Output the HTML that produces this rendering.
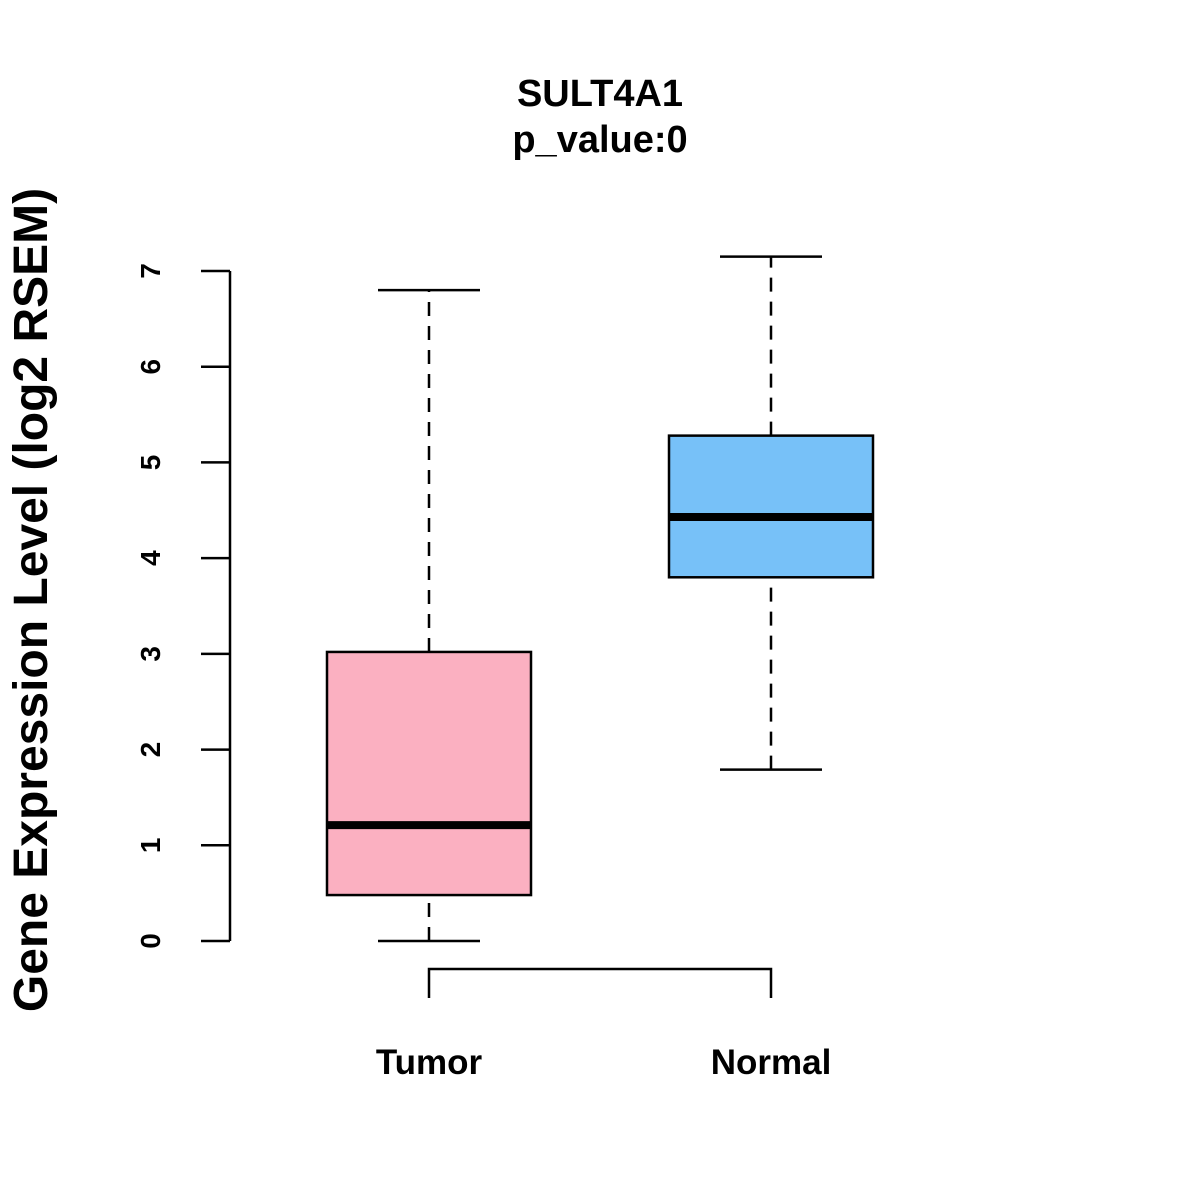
<!DOCTYPE html>
<html><head><meta charset="utf-8"><style>body{margin:0;background:#fff}svg{display:block}text{font-family:"Liberation Sans",Arial,sans-serif;font-weight:bold}</style></head>
<body>
<svg id="chart" width="1200" height="1200" viewBox="0 0 1200 1200">
<rect width="1200" height="1200" fill="#fff"/>
<text x="600" y="106" font-size="38" text-anchor="middle">SULT4A1</text>
<text x="600" y="152" font-size="38" text-anchor="middle">p_value:0</text>
<text transform="translate(47,600) rotate(-90)" font-size="48" text-anchor="middle">Gene Expression Level (log2 RSEM)</text>
<g id="axis"></g><g id="boxes"></g>
</svg>
<script>
const categories = ["Tumor", "Normal"];
const whiskerLow = [0, 1.79];
const q1 = [0.48, 3.80];
const median = [1.21, 4.43];
const q3 = [3.02, 5.28];
const whiskerHigh = [6.80, 7.15];
const colors = ["#fbb0c1", "#77c1f8"];
const yTicks = [0, 1, 2, 3, 4, 5, 6, 7];

const NS = "http://www.w3.org/2000/svg";
const y = v => 941 - v * (670 / 7);
const x = i => 429 + i * 342;
function mk(tag, attrs, parent) {
  const e = document.createElementNS(NS, tag);
  for (const k in attrs) e.setAttribute(k, attrs[k]);
  parent.appendChild(e); return e;
}
const axis = document.getElementById("axis");
const boxes = document.getElementById("boxes");
const ax = mk("line", {x1: 230, x2: 230, y1: y(yTicks[0]), y2: y(yTicks[yTicks.length-1]), stroke: "#000", "stroke-width": 2.5}, axis);


yTicks.forEach(t => {
  const tk = mk("line", {x1: 201, x2: 230, y1: y(t), y2: y(t), stroke: "#000", "stroke-width": 2.5}, axis);
  
  
  const lb = mk("text", {transform: `translate(160,${y(t)}) rotate(-90)`, "font-size": 28, "text-anchor": "middle"}, axis);
  lb.textContent = t;
  
  
});
categories.forEach((c, i) => {
  const cx = x(i);
  const g = mk("g", {}, boxes);
  
  
  const sw = {stroke: "#000", "stroke-width": 2.5};
  mk("line", {x1: cx, x2: cx, y1: y(whiskerLow[i]), y2: y(q1[i]), "stroke-dasharray": "14,10", ...sw}, g);
  mk("line", {x1: cx, x2: cx, y1: y(q3[i]), y2: y(whiskerHigh[i]), "stroke-dasharray": "14,10", ...sw}, g);
  mk("line", {x1: cx - 51, x2: cx + 51, y1: y(whiskerLow[i]), y2: y(whiskerLow[i]), ...sw}, g);
  mk("line", {x1: cx - 51, x2: cx + 51, y1: y(whiskerHigh[i]), y2: y(whiskerHigh[i]), ...sw}, g);
  mk("rect", {x: cx - 102, width: 204, y: y(q3[i]), height: y(q1[i]) - y(q3[i]), fill: colors[i], ...sw}, g);
  mk("line", {x1: cx - 102, x2: cx + 102, y1: y(median[i]), y2: y(median[i]), stroke: "#000", "stroke-width": 8}, g);
  const lb = mk("text", {x: cx, y: 1074, "font-size": 35, "text-anchor": "middle"}, g);
  lb.textContent = c;
  
  
});
const br = mk("path", {d: `M${x(0)},998 V969 H${x(1)} V998`, fill: "none", stroke: "#000", "stroke-width": 2.5}, axis);


</script>
</body></html>
